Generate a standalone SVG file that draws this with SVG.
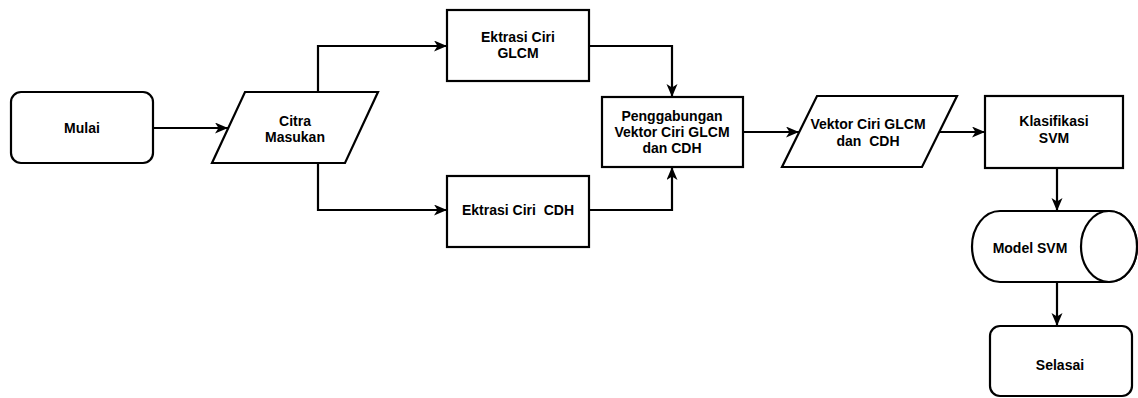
<svg xmlns="http://www.w3.org/2000/svg" width="1138" height="398" viewBox="0 0 1138 398">
<style>
.s{fill:#fff;stroke:#000;stroke-width:2.2}
.c{fill:none;stroke:#000;stroke-width:2.2}
text{font-family:"Liberation Sans",Arial,sans-serif;font-weight:bold;font-size:14px;fill:#000;text-anchor:middle;white-space:pre}
</style>
<defs>
<marker id="a" markerUnits="userSpaceOnUse" markerWidth="14" markerHeight="12" refX="13" refY="5.5" orient="auto">
<path d="M0,0 L13,5.5 L0,11 L3.5,5.5 Z" fill="#000"/>
</marker>
</defs>
<g id="connectors">
<path class="c" d="M153,128 L228,128" marker-end="url(#a)"/>
<path class="c" d="M318,92 L318,46 L447,46" marker-end="url(#a)"/>
<path class="c" d="M318,163 L318,210 L447,210" marker-end="url(#a)"/>
<path class="c" d="M589,46 L672,46 L672,97" marker-end="url(#a)"/>
<path class="c" d="M589,210 L672,210 L672,167" marker-end="url(#a)"/>
<path class="c" d="M743,132 L799,132" marker-end="url(#a)"/>
<path class="c" d="M940,132 L985,132" marker-end="url(#a)"/>
<path class="c" d="M1057,168 L1057,211" marker-end="url(#a)"/>
<path class="c" d="M1057,282 L1057,326" marker-end="url(#a)"/>
</g>
<g id="mulai">
<rect class="s" x="11" y="92" width="142" height="71" rx="10"/>
<text x="82" y="133">Mulai</text>
</g>
<g id="citra">
<path class="s" d="M245,92 L378,92 L345,163 L212,163 Z"/>
<text x="295" y="126">Citra</text>
<text x="295" y="142">Masukan</text>
</g>
<g id="glcm">
<rect class="s" x="447" y="10" width="142" height="71"/>
<text x="518" y="42">Ektrasi Ciri</text>
<text x="518" y="58">GLCM</text>
</g>
<g id="cdh">
<rect class="s" x="447" y="176" width="142" height="71"/>
<text x="518" y="215">Ektrasi Ciri  CDH</text>
</g>
<g id="gabung">
<rect class="s" x="602" y="97" width="141" height="70"/>
<text x="672" y="121">Penggabungan</text>
<text x="672" y="137">Vektor Ciri GLCM</text>
<text x="672" y="153">dan CDH</text>
</g>
<g id="vektor">
<path class="s" d="M817,96 L957,96 L922,167 L782,167 Z"/>
<text x="868" y="129">Vektor Ciri GLCM</text>
<text x="868" y="146">dan  CDH</text>
</g>
<g id="klasifikasi">
<rect class="s" x="985" y="96" width="138" height="72"/>
<text x="1054" y="126">Klasifikasi</text>
<text x="1054" y="143">SVM</text>
</g>
<g id="model">
<path class="s" d="M1000,211 L1109,211 A28,35.5 0 0 1 1109,282 L1000,282 A28,35.5 0 0 1 1000,211 Z"/>
<ellipse class="s" cx="1109" cy="246.5" rx="28" ry="35.5"/>
<text x="1030" y="253">Model SVM</text>
</g>
<g id="selasai">
<rect class="s" x="990" y="326" width="142" height="70" rx="10"/>
<text x="1060" y="370">Selasai</text>
</g>
</svg>
